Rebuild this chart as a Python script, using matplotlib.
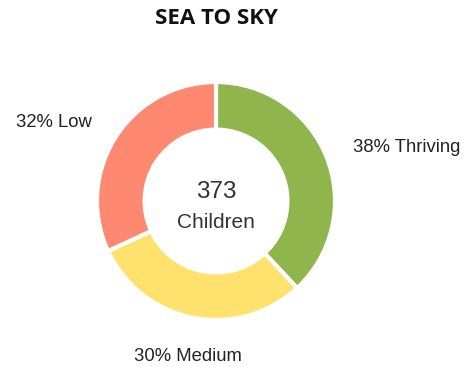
import numpy as np
import matplotlib
matplotlib.use('Agg')
import matplotlib.pyplot as plt

title = "SEA TO SKY"
labels = ["Thriving", "Medium", "Low"]
counts = [142, 112, 119]
colors = ["#8fb54c", "#ffe26e", "#ff8870"]
unit = "Children"


def main():
    fig = plt.figure(figsize=(4.72, 3.67), dpi=100)
    # axes in pixel units so the ring sits where we want it
    ax = fig.add_axes([0, 0, 1, 1])
    ax.set_xlim(0, 472)
    ax.set_ylim(0, 367)
    ax.axis('off')

    cx, cy, r = 216, 166, 119
    total = sum(counts)
    wedges, _ = ax.pie(counts, colors=colors, startangle=90, counterclock=False,
                       center=(cx, cy), radius=r,
                       wedgeprops=dict(width=r * 0.4, edgecolor='white', linewidth=3))
    ax.set_xlim(0, 472)
    ax.set_ylim(0, 367)

    # outside labels anchored just beyond the ring
    for w, lab, n in zip(wedges, labels, counts):
        ang = np.deg2rad((w.theta1 + w.theta2) / 2)
        c = np.cos(ang)
        if c > 0.3:
            ha, va, k = 'left', 'center', 1.22
        elif c < -0.3:
            ha, va, k = 'right', 'center', 1.22
        else:
            ha, va, k = 'center', 'top' if np.sin(ang) < 0 else 'bottom', 1.26
        x = cx + 1.24 * r * c
        y = cy + k * r * np.sin(ang)
        pct = round(100 * n / total)
        ax.text(x, y, f"{pct}% {lab}", ha=ha, va=va, fontsize=13.3,
                family='Liberation Sans', color='#222222')

    ax.text(cx, cy + 9, str(total), ha='center', va='center', fontsize=17.5,
            family='Liberation Sans', color='#333333')
    ax.text(cx, cy - 21, unit, ha='center', va='center', fontsize=15,
            family='Liberation Sans', color='#333333')

    fig.text(216 / 472, 1 - 18 / 367, title, ha='center', va='center',
             fontsize=16, fontweight='bold', family=['Open Sans', 'Lato', 'DejaVu Sans'],
             color='#111111')

    fig.savefig('out.png', dpi=100)


if __name__ == '__main__':
    main()
